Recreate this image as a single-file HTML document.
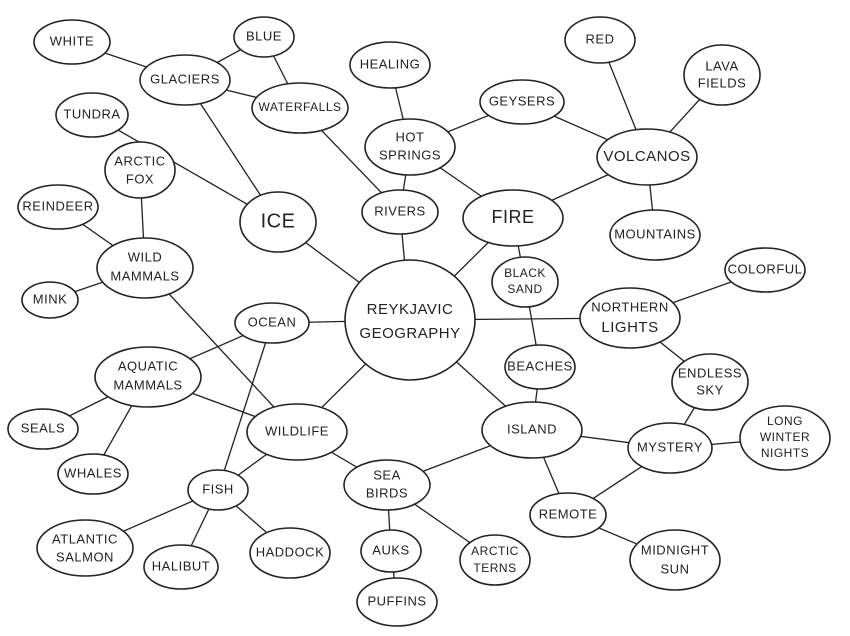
<!DOCTYPE html>
<html><head><meta charset="utf-8"><style>
html,body{margin:0;padding:0;background:#fff;}
svg{display:block;}
text{font-family:"Liberation Sans",sans-serif;font-size:13px;fill:#222;text-anchor:middle;dominant-baseline:middle;letter-spacing:0.5px;}
ellipse{fill:#fff;stroke:#222;stroke-width:1.6;}
line{stroke:#222;stroke-width:1.3;}
</style></head><body>
<svg width="850" height="636" viewBox="0 0 850 636">
<g id="edges">
<line x1="72" y1="42" x2="185" y2="80"/>
<line x1="264" y1="37" x2="185" y2="80"/>
<line x1="264" y1="37" x2="300" y2="108"/>
<line x1="185" y1="80" x2="300" y2="108"/>
<line x1="185" y1="80" x2="278" y2="222"/>
<line x1="92" y1="115" x2="278" y2="222"/>
<line x1="300" y1="108" x2="400" y2="212"/>
<line x1="390" y1="65" x2="410" y2="147"/>
<line x1="410" y1="147" x2="522" y2="102"/>
<line x1="410" y1="147" x2="400" y2="212"/>
<line x1="410" y1="147" x2="513" y2="218"/>
<line x1="522" y1="102" x2="647" y2="157"/>
<line x1="600" y1="40" x2="647" y2="157"/>
<line x1="722" y1="75" x2="647" y2="157"/>
<line x1="647" y1="157" x2="655" y2="235"/>
<line x1="647" y1="157" x2="513" y2="218"/>
<line x1="140" y1="170" x2="145" y2="268"/>
<line x1="58" y1="207" x2="145" y2="268"/>
<line x1="50" y1="300" x2="145" y2="268"/>
<line x1="145" y1="268" x2="297" y2="432"/>
<line x1="278" y1="222" x2="410" y2="320"/>
<line x1="400" y1="212" x2="410" y2="320"/>
<line x1="513" y1="218" x2="410" y2="320"/>
<line x1="513" y1="218" x2="525" y2="282"/>
<line x1="525" y1="282" x2="540" y2="367"/>
<line x1="410" y1="320" x2="630" y2="318"/>
<line x1="630" y1="318" x2="765" y2="270"/>
<line x1="630" y1="318" x2="710" y2="382"/>
<line x1="710" y1="382" x2="670" y2="448"/>
<line x1="670" y1="448" x2="785" y2="438"/>
<line x1="670" y1="448" x2="532" y2="430"/>
<line x1="670" y1="448" x2="568" y2="515"/>
<line x1="532" y1="430" x2="568" y2="515"/>
<line x1="568" y1="515" x2="675" y2="560"/>
<line x1="410" y1="320" x2="532" y2="430"/>
<line x1="540" y1="367" x2="532" y2="430"/>
<line x1="532" y1="430" x2="387" y2="485"/>
<line x1="410" y1="320" x2="272" y2="323"/>
<line x1="410" y1="320" x2="297" y2="432"/>
<line x1="272" y1="323" x2="148" y2="377"/>
<line x1="272" y1="323" x2="218" y2="490"/>
<line x1="148" y1="377" x2="43" y2="429"/>
<line x1="148" y1="377" x2="93" y2="474"/>
<line x1="148" y1="377" x2="297" y2="432"/>
<line x1="297" y1="432" x2="218" y2="490"/>
<line x1="297" y1="432" x2="387" y2="485"/>
<line x1="218" y1="490" x2="85" y2="548"/>
<line x1="218" y1="490" x2="181" y2="567"/>
<line x1="218" y1="490" x2="290" y2="553"/>
<line x1="387" y1="485" x2="391" y2="551"/>
<line x1="387" y1="485" x2="495" y2="560"/>
<line x1="391" y1="551" x2="397" y2="602"/>
</g>
<g id="nodes">
<ellipse cx="72" cy="42" rx="38" ry="22"/><text x="72" y="42">WHITE</text>
<ellipse cx="264" cy="37" rx="30" ry="20"/><text x="264" y="37">BLUE</text>
<ellipse cx="185" cy="80" rx="45" ry="25"/><text x="185" y="80">GLACIERS</text>
<ellipse cx="300" cy="108" rx="48" ry="25"/><text x="300" y="108" style="font-size:12px">WATERFALLS</text>
<ellipse cx="92" cy="115" rx="36" ry="22"/><text x="92" y="115">TUNDRA</text>
<ellipse cx="390" cy="65" rx="40" ry="23"/><text x="390" y="65">HEALING</text>
<ellipse cx="522" cy="102" rx="42" ry="22"/><text x="522" y="102">GEYSERS</text>
<ellipse cx="600" cy="40" rx="35" ry="23"/><text x="600" y="40">RED</text>
<ellipse cx="722" cy="75" rx="38" ry="30"/><text x="722" y="67">LAVA</text><text x="722" y="84">FIELDS</text>
<ellipse cx="410" cy="147" rx="45" ry="28"/><text x="410" y="138">HOT</text><text x="410" y="156">SPRINGS</text>
<ellipse cx="647" cy="157" rx="50" ry="28"/><text x="647" y="157" style="font-size:15px">VOLCANOS</text>
<ellipse cx="140" cy="170" rx="35" ry="28"/><text x="140" y="162">ARCTIC</text><text x="140" y="180">FOX</text>
<ellipse cx="58" cy="207" rx="40" ry="22"/><text x="58" y="207">REINDEER</text>
<ellipse cx="278" cy="222" rx="38" ry="30"/><text x="278" y="222" style="font-size:20px">ICE</text>
<ellipse cx="400" cy="212" rx="38" ry="22"/><text x="400" y="212">RIVERS</text>
<ellipse cx="513" cy="218" rx="50" ry="28"/><text x="513" y="218" style="font-size:18px">FIRE</text>
<ellipse cx="655" cy="235" rx="45" ry="25"/><text x="655" y="235">MOUNTAINS</text>
<ellipse cx="145" cy="268" rx="48" ry="30"/><text x="145" y="258">WILD</text><text x="145" y="277">MAMMALS</text>
<ellipse cx="525" cy="282" rx="33" ry="25"/><text x="525" y="274" style="font-size:12px">BLACK</text><text x="525" y="290" style="font-size:12px">SAND</text>
<ellipse cx="765" cy="270" rx="40" ry="22"/><text x="765" y="270">COLORFUL</text>
<ellipse cx="50" cy="300" rx="28" ry="18"/><text x="50" y="300">MINK</text>
<ellipse cx="410" cy="320" rx="65" ry="60"/><text x="410" y="310" style="font-size:15px">REYKJAVIC</text><text x="410" y="334" style="font-size:15px">GEOGRAPHY</text>
<ellipse cx="272" cy="323" rx="37" ry="20"/><text x="272" y="323">OCEAN</text>
<ellipse cx="630" cy="318" rx="50" ry="30"/><text x="630" y="308">NORTHERN</text><text x="630" y="328" style="font-size:15px">LIGHTS</text>
<ellipse cx="148" cy="377" rx="53" ry="30"/><text x="148" y="367">AQUATIC</text><text x="148" y="386">MAMMALS</text>
<ellipse cx="540" cy="367" rx="35" ry="22"/><text x="540" y="367">BEACHES</text>
<ellipse cx="710" cy="382" rx="38" ry="28"/><text x="710" y="374">ENDLESS</text><text x="710" y="391">SKY</text>
<ellipse cx="43" cy="429" rx="35" ry="20"/><text x="43" y="429">SEALS</text>
<ellipse cx="297" cy="432" rx="50" ry="28"/><text x="297" y="432">WILDLIFE</text>
<ellipse cx="532" cy="430" rx="50" ry="28"/><text x="532" y="430">ISLAND</text>
<ellipse cx="785" cy="438" rx="45" ry="32"/><text x="785" y="422" style="font-size:12px">LONG</text><text x="785" y="438" style="font-size:12px">WINTER</text><text x="785" y="454" style="font-size:12px">NIGHTS</text>
<ellipse cx="670" cy="448" rx="42" ry="25"/><text x="670" y="448">MYSTERY</text>
<ellipse cx="93" cy="474" rx="35" ry="20"/><text x="93" y="474">WHALES</text>
<ellipse cx="387" cy="485" rx="43" ry="25"/><text x="387" y="476">SEA</text><text x="387" y="494">BIRDS</text>
<ellipse cx="218" cy="490" rx="30" ry="20"/><text x="218" y="490">FISH</text>
<ellipse cx="568" cy="515" rx="38" ry="22"/><text x="568" y="515">REMOTE</text>
<ellipse cx="85" cy="548" rx="48" ry="28"/><text x="85" y="540">ATLANTIC</text><text x="85" y="558">SALMON</text>
<ellipse cx="181" cy="567" rx="37" ry="22"/><text x="181" y="567">HALIBUT</text>
<ellipse cx="290" cy="553" rx="40" ry="25"/><text x="290" y="553">HADDOCK</text>
<ellipse cx="391" cy="551" rx="30" ry="21"/><text x="391" y="551">AUKS</text>
<ellipse cx="495" cy="560" rx="35" ry="25"/><text x="495" y="552" style="font-size:12px">ARCTIC</text><text x="495" y="569" style="font-size:12px">TERNS</text>
<ellipse cx="675" cy="560" rx="45" ry="30"/><text x="675" y="551">MIDNIGHT</text><text x="675" y="570">SUN</text>
<ellipse cx="397" cy="602" rx="40" ry="24"/><text x="397" y="602">PUFFINS</text>
</g>
</svg>
</body></html>
